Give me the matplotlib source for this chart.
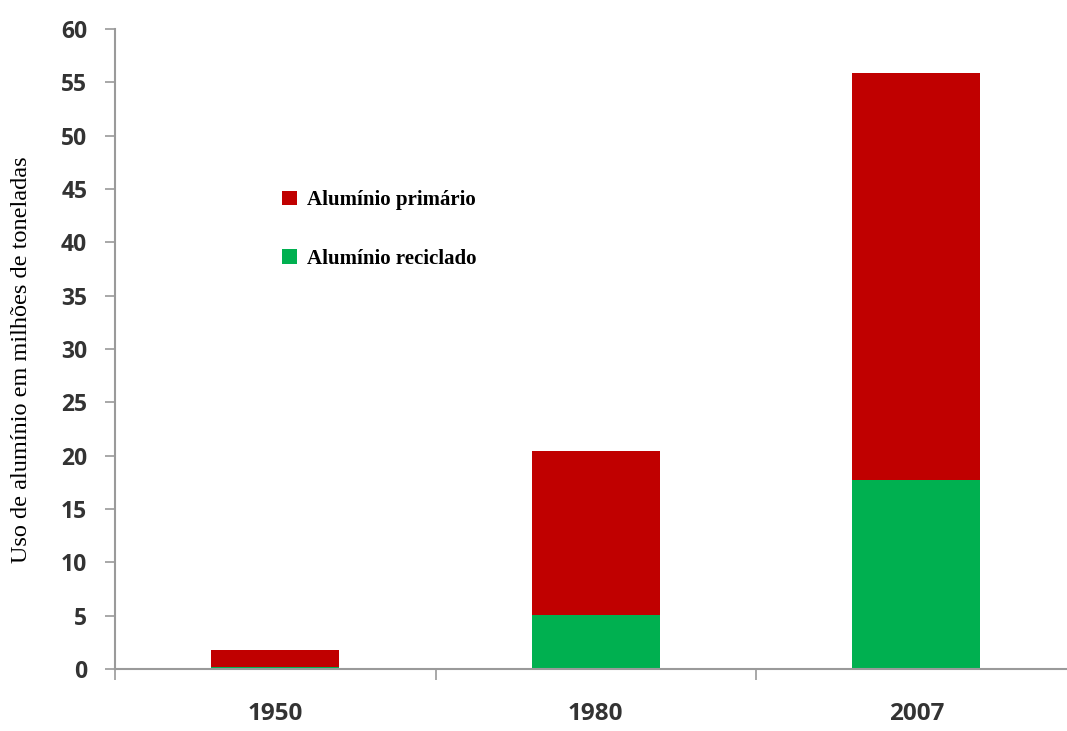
import matplotlib.pyplot as plt
import numpy as np

anos = ["1950", "1980", "2007"]
reciclado = [0.2, 5.1, 17.7]
primario = [1.6, 15.3, 38.2]

vermelho = "#C00000"
verde = "#00B050"
cinza = "#9a9a9a"

fig = plt.figure(figsize=(10.67, 7.31), dpi=100)
ax = fig.add_axes([115 / 1067, 1 - 669 / 731, 1 - 115 / 1067, (669 - 29) / 731])

x = np.arange(len(anos))
b_rec = ax.bar(x, reciclado, width=0.4, color=verde)
b_pri = ax.bar(x, primario, width=0.4, bottom=reciclado, color=vermelho)

ax.set_ylim(0, 60)
ax.set_yticks(range(0, 61, 5))
ax.set_xlim(-0.5, 2.47)
ax.set_xticks(x)
ax.set_xticklabels(anos)
# marcas do eixo x entre as categorias
ax.set_xticks([-0.5, 0.5, 1.5], minor=True)
ax.tick_params(axis="x", which="major", length=0, pad=24)
ax.tick_params(axis="x", which="minor", length=8, color=cinza, width=1.2)
ax.tick_params(axis="y", length=7, color=cinza, width=1.2, pad=13)

for lbl in ax.get_yticklabels():
    lbl.set_family("Open Sans")
    lbl.set_fontweight("bold")
    lbl.set_fontsize(16.5)
    lbl.set_color("#333333")
for lbl in ax.get_xticklabels():
    lbl.set_family("Open Sans")
    lbl.set_fontweight("bold")
    lbl.set_fontsize(17.5)
    lbl.set_color("#333333")

for s in ["top", "right"]:
    ax.spines[s].set_visible(False)
for s in ["left", "bottom"]:
    ax.spines[s].set_color(cinza)
    ax.spines[s].set_linewidth(1.5)

fig.text(22 / 1067, 1 - 360 / 731, "Uso de alumínio em milhões de toneladas",
         rotation=90, ha="center", va="center",
         family="Liberation Serif", fontsize=17.5)

fig.legend([b_pri, b_rec], ["Alumínio primário", "Alumínio reciclado"],
           loc="upper left", bbox_to_anchor=(272 / 1067, 1 - 180 / 731),
           frameon=False, handlelength=0.7, handleheight=0.7,
           handletextpad=0.5, labelspacing=1.85, borderpad=0,
           prop={"family": "Liberation Serif", "weight": "bold", "size": 15})

fig.savefig("out.png", dpi=100)
